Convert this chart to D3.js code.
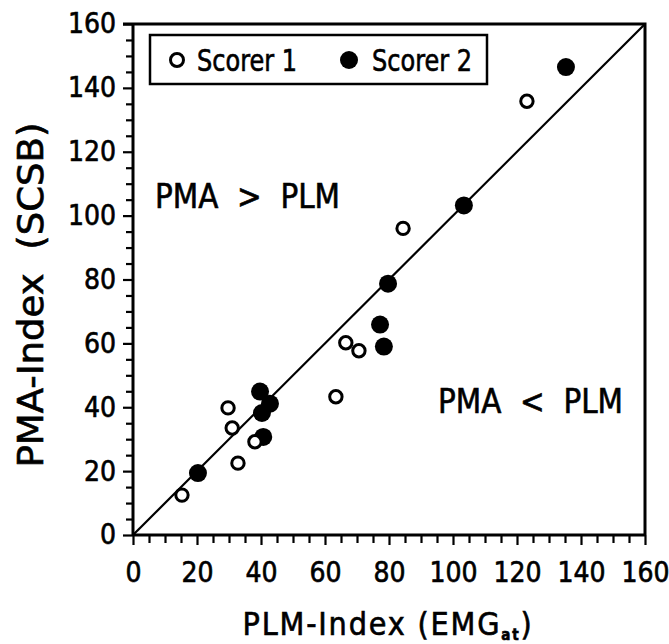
<!DOCTYPE html>
<html><head><meta charset="utf-8">
<script src="https://cdn.jsdelivr.net/npm/d3@7"></script>
<style>
html,body{margin:0;padding:0;background:#fff;}
svg text{font-family:"Liberation Sans Narrow","DejaVu Sans Condensed","Liberation Sans",sans-serif;fill:#000;stroke:#000;stroke-width:0.6px;}
</style></head>
<body><svg id="c" width="669" height="644"></svg>
<script>
const xTicks = [0,20,40,60,80,100,120,140,160];
const yTicks = [0,20,40,60,80,100,120,140,160];
const seriesNames = ["Scorer 1","Scorer 2"];
const scorer1X = [15.3, 32.8, 31.0, 29.7, 38.1, 63.4, 66.5, 70.6, 84.4, 123.1];
const scorer1Y = [12.5, 22.5, 33.5, 39.8, 29.2, 43.3, 60.2, 57.7, 96.0, 135.8];
const scorer2X = [20.3, 39.7, 42.8, 40.3, 40.7, 77.2, 78.4, 79.7, 103.4, 135.3];
const scorer2Y = [19.4, 44.9, 41.1, 38.2, 30.7, 65.9, 59.0, 78.7, 103.2, 146.5];
const identityLine = [0,160];

const svg = d3.select("#c");
const x = d3.scaleLinear().domain([0,160]).range([133,645]);
const y = d3.scaleLinear().domain([0,160]).range([535,24]);
const minor = d3.range(0,161,5);

// frame (top & right)
svg.append("path").attr("d",`M${x(0)-10},${y(160)}H${x(160)}V${y(0)}`)
  .attr("fill","none").attr("stroke","#000").attr("stroke-width",3);

// x axis
const gx = svg.append("g").attr("transform",`translate(0,${y(0)})`);
gx.call(d3.axisBottom(x).tickValues(minor).tickSize(9).tickFormat(""));
gx.select(".domain").remove();
gx.selectAll(".tick line").attr("stroke-width",2.2).attr("y2",d=>d%20===0?10:8);
svg.append("line").attr("x1",x(0)).attr("x2",x(160)).attr("y1",y(0)).attr("y2",y(0))
  .attr("stroke","#000").attr("stroke-width",3);
const gxl = svg.append("g").attr("transform",`translate(0,${y(0)})`);
gxl.call(d3.axisBottom(x).tickValues(xTicks).tickSize(0).tickPadding(27).tickFormat(d3.format("d")));
gxl.select(".domain").remove();
gxl.selectAll("text").attr("font-size",28).attr("font-family",null);

// y axis
const gy = svg.append("g").attr("transform",`translate(${x(0)},0)`);
gy.call(d3.axisLeft(y).tickValues(minor).tickSize(9).tickFormat(""));
gy.select(".domain").remove();
gy.selectAll(".tick line").attr("stroke-width",2.2).attr("x2",d=>d%20===0?-10:-7);
svg.append("line").attr("x1",x(0)).attr("x2",x(0)).attr("y1",y(0)).attr("y2",y(160))
  .attr("stroke","#000").attr("stroke-width",3);
const gyl = svg.append("g").attr("transform",`translate(${x(0)},0)`);
gyl.call(d3.axisLeft(y).tickValues(yTicks).tickSize(0).tickPadding(17).tickFormat(d3.format("d")));
gyl.select(".domain").remove();
gyl.selectAll("text").attr("font-size",28).attr("font-family",null);

// identity line
svg.append("line").attr("x1",x(identityLine[0])).attr("y1",y(identityLine[0]))
  .attr("x2",x(identityLine[1])).attr("y2",y(identityLine[1]))
  .attr("stroke","#000").attr("stroke-width",2.2);

// points
const s2 = scorer2X.map((v,i)=>({x:v,y:scorer2Y[i]}));
const s1 = scorer1X.map((v,i)=>({x:v,y:scorer1Y[i]}));
svg.append("g").selectAll("circle").data(s2).join("circle")
  .attr("cx",d=>x(d.x)).attr("cy",d=>y(d.y)).attr("r",9).attr("fill","#000");
svg.append("g").selectAll("circle").data(s1).join("circle")
  .attr("cx",d=>x(d.x)).attr("cy",d=>y(d.y)).attr("r",6.2)
  .attr("fill","#fff").attr("stroke","#000").attr("stroke-width",3);

// legend
svg.append("rect").attr("x",150).attr("y",35).attr("width",337).attr("height",49)
  .attr("fill","#fff").attr("stroke","#000").attr("stroke-width",2.5);
svg.append("circle").attr("cx",177).attr("cy",60).attr("r",6.5)
  .attr("fill","#fff").attr("stroke","#000").attr("stroke-width",3);
svg.append("circle").attr("cx",349).attr("cy",60).attr("r",9).attr("fill","#000");
svg.append("text").attr("x",197).attr("y",71).attr("font-size",30)
  .attr("textLength",100).attr("lengthAdjust","spacingAndGlyphs").text(seriesNames[0]);
svg.append("text").attr("x",372).attr("y",71).attr("font-size",30)
  .attr("textLength",100).attr("lengthAdjust","spacingAndGlyphs").text(seriesNames[1]);

// region labels
svg.append("text").attr("x",155).attr("y",208).attr("font-size",34)
  .attr("textLength",185).attr("lengthAdjust","spacingAndGlyphs")
  .style("white-space","pre").text("PMA  >  PLM");
svg.append("text").attr("x",438).attr("y",413).attr("font-size",34)
  .attr("textLength",185).attr("lengthAdjust","spacingAndGlyphs")
  .style("white-space","pre").text("PMA  <  PLM");

// axis titles
const xt = svg.append("text").attr("x",388).attr("y",635).attr("text-anchor","middle")
  .attr("font-size",32).attr("letter-spacing",1.8);
xt.append("tspan").text("PLM-Index (EMG");
xt.append("tspan").attr("font-size",15).attr("font-weight","bold").attr("dy",5).text("at");
xt.append("tspan").attr("dy",-5).text(")");
svg.append("text").attr("transform","translate(43,295) rotate(-90)")
  .attr("text-anchor","middle").attr("font-size",35)
  .attr("textLength",345).attr("lengthAdjust","spacingAndGlyphs")
  .style("white-space","pre").text("PMA-Index  (SCSB)");
</script></body></html>
